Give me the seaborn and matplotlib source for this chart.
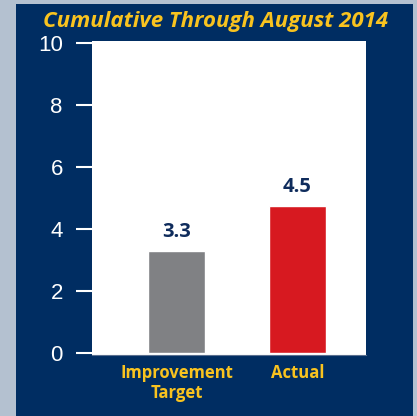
import matplotlib
matplotlib.use("Agg")
import matplotlib.pyplot as plt
import seaborn as sns
import pandas as pd
from matplotlib.patches import Rectangle

# data
categories = ["Improvement\nTarget", "Actual"]
bar_heights = [3.3, 4.75]
value_labels = ["3.3", "4.5"]
bar_colors = ["#808184", "#d71920"]
yticks = [0, 2, 4, 6, 8, 10]

NAVY = "#002d62"
GOLD = "#f9c31f"

sns.set_theme(style="white")
plt.rcParams["font.family"] = ["Liberation Sans", "DejaVu Sans"]

fig = plt.figure(figsize=(4.17, 4.16), dpi=100, facecolor="#b4c1d0")
# navy panel behind everything
fig.patches.append(Rectangle((16 / 417, 0), 397 / 417, 412 / 416,
                             transform=fig.transFigure, facecolor=NAVY,
                             edgecolor="none", zorder=-5))

ax = fig.add_axes([92 / 417, (416 - 354.5) / 416, 274 / 417, (354.5 - 41) / 416])
ax.set_zorder(2)
ax.set_facecolor("white")

df = pd.DataFrame({"cat": categories, "val": bar_heights})
sns.barplot(data=df, x="cat", y="val", hue="cat", palette=bar_colors,
            width=0.47, legend=False, saturation=1, ax=ax)

for i, (h, lab) in enumerate(zip(bar_heights, value_labels)):
    ax.text(i, h + 0.27, lab, ha="center", va="bottom", color="#0f2c5c",
            fontsize=14.5, fontweight="bold", family="Open Sans")

ax.set_xlim(-0.70, 1.566)
ax.set_ylim(-0.04, 10.05)
ax.set_yticks(yticks)
ax.set_yticklabels([str(t) for t in yticks])
ax.set_xlabel("")
ax.set_ylabel("")

for s in ["top", "right", "left"]:
    ax.spines[s].set_visible(False)
ax.spines["bottom"].set_color("#5a6f8f")
ax.spines["bottom"].set_linewidth(0.8)

ax.tick_params(axis="y", colors="white", length=11.5, width=1.5,
               labelsize=16, pad=9.5, direction="out", left=True)
ax.tick_params(axis="x", length=0, pad=7)
for t in ax.get_xticklabels():
    t.set_color(GOLD)
    t.set_fontsize(12)
    t.set_fontweight("bold")
    t.set_family("Open Sans")
    t.set_linespacing(1.15)

fig.text(216 / 417, 1 - 22 / 416, "Cumulative Through August 2014",
         ha="center", va="center", color=GOLD, fontsize=16,
         fontweight="bold", style="italic", family="Open Sans")

fig.savefig("out.png", dpi=100, facecolor=fig.get_facecolor())
